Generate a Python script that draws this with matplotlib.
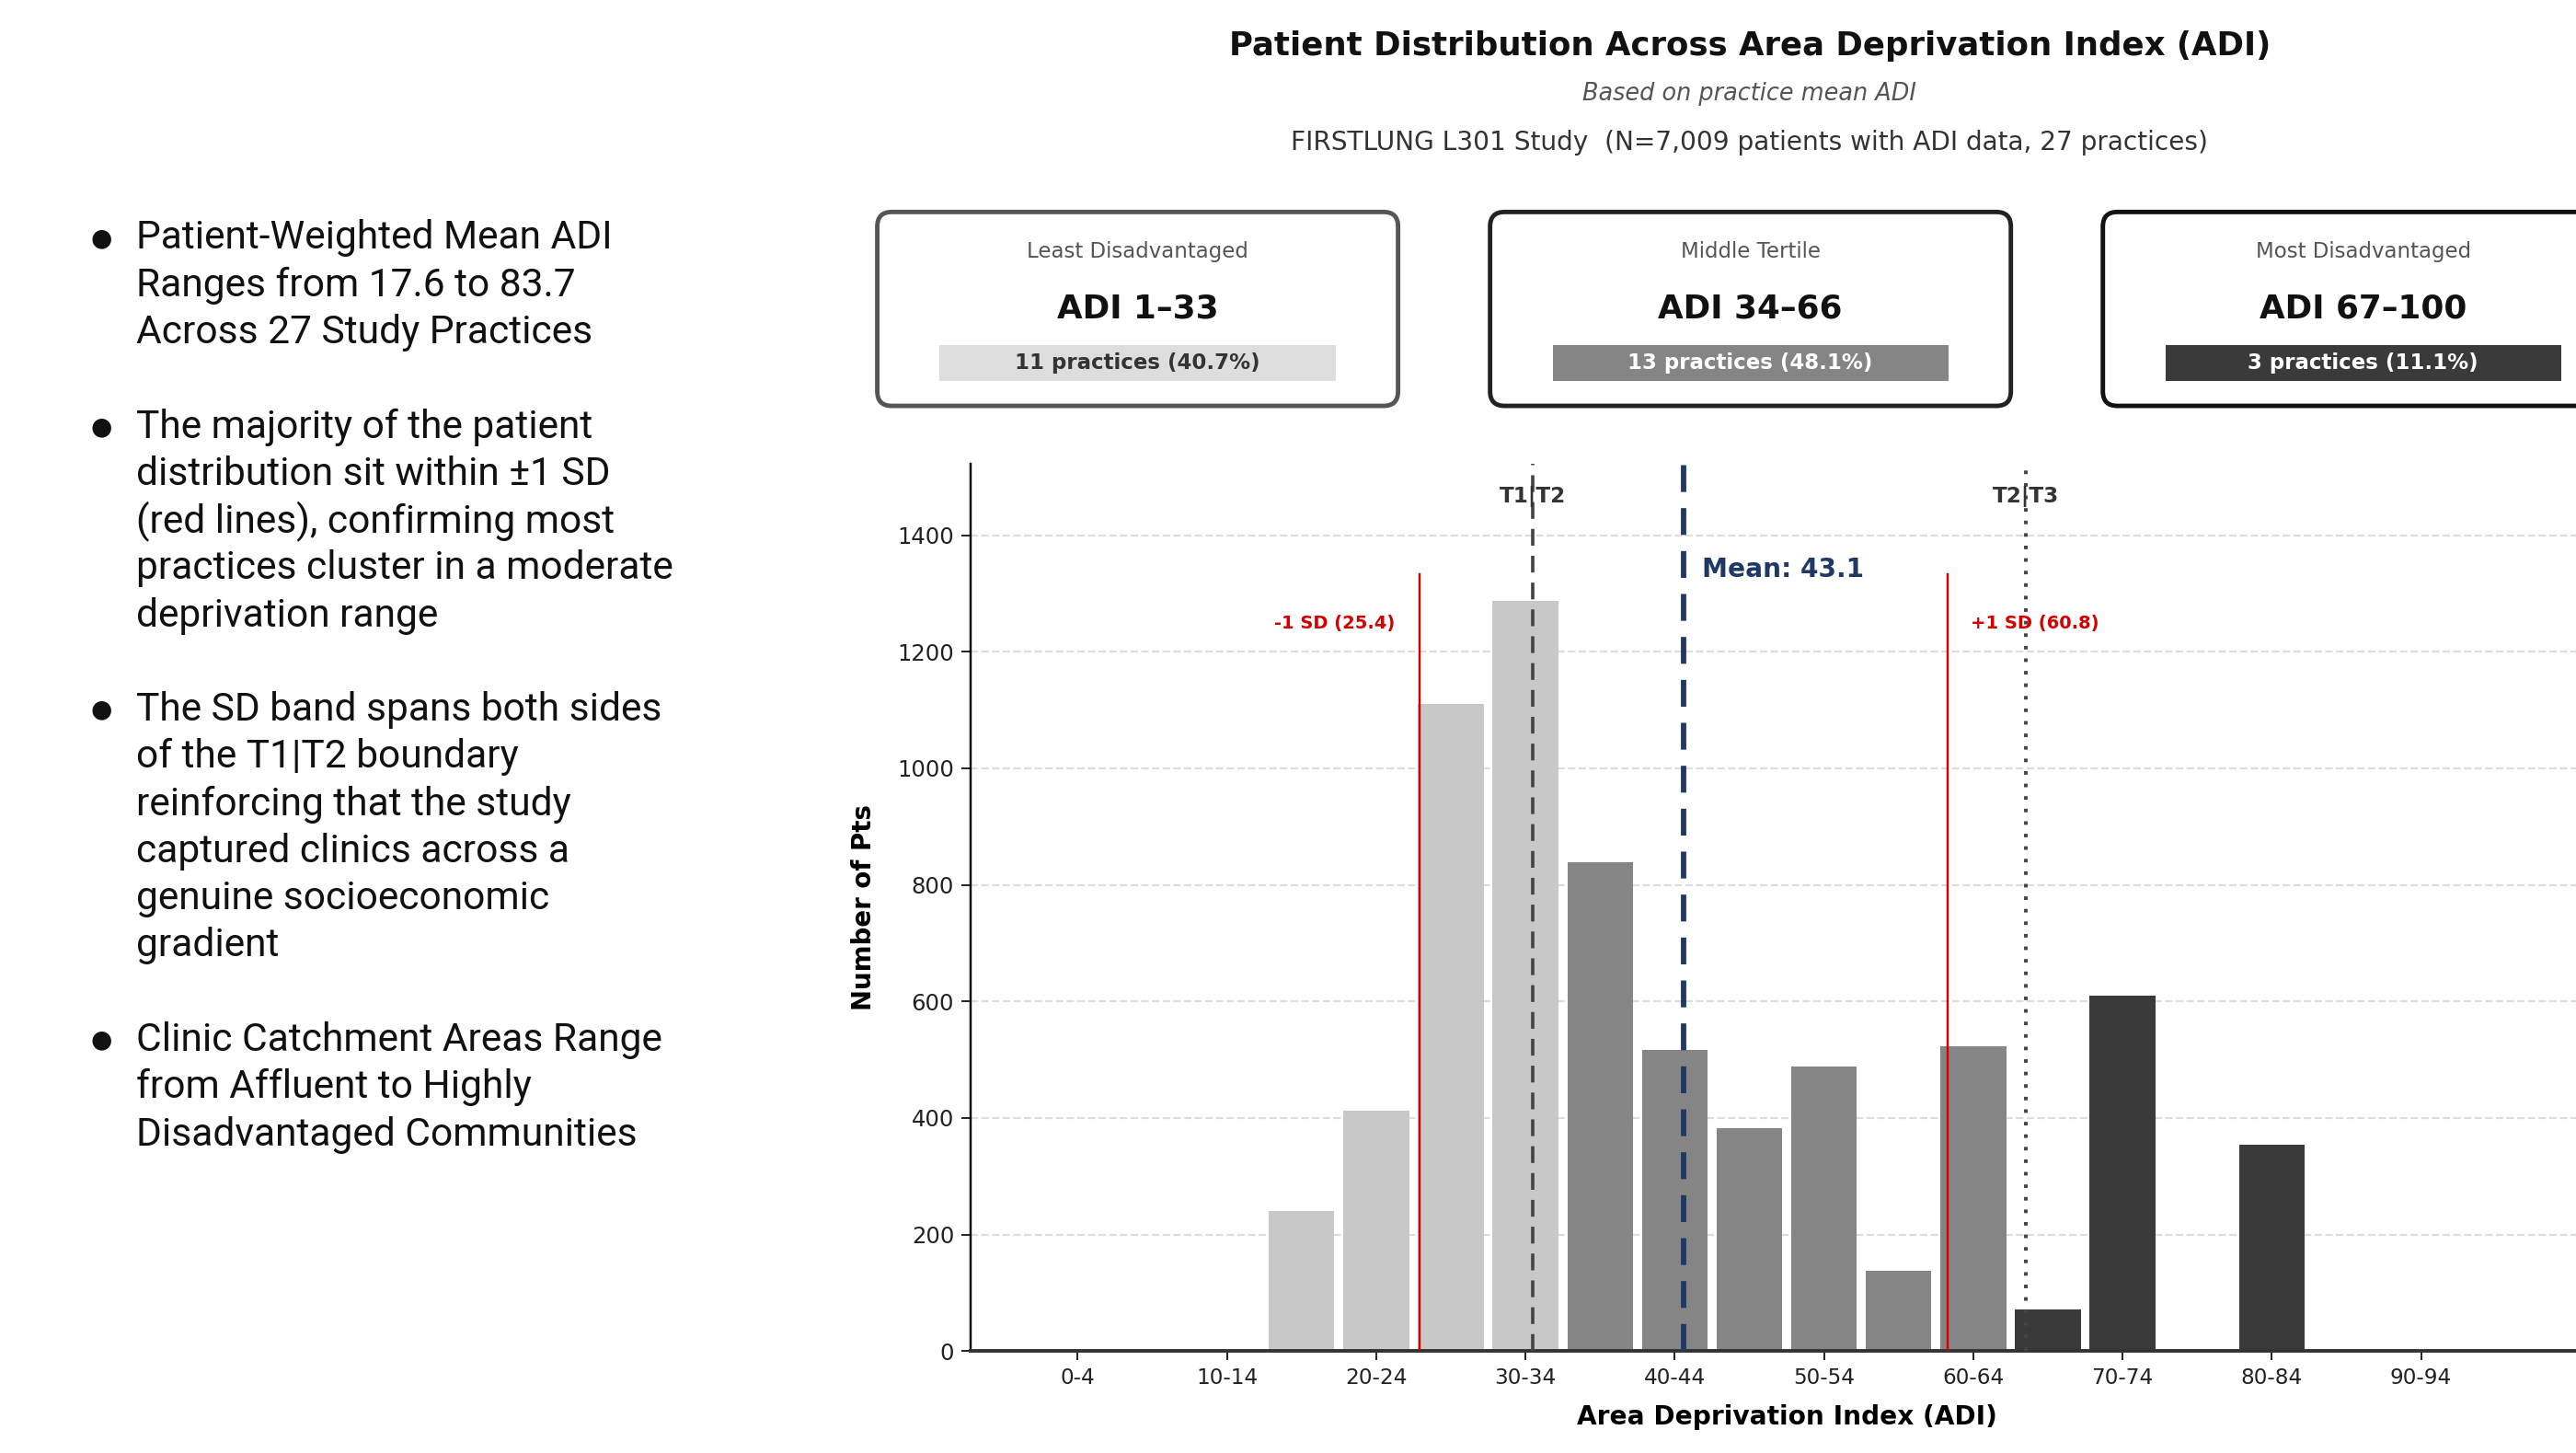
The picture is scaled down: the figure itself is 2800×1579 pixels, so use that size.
import matplotlib
matplotlib.use('Agg')
import matplotlib.pyplot as plt
import matplotlib.transforms as mtransforms
from matplotlib.patches import FancyBboxPatch, Rectangle

# ADI bins (5-point wide) and patient counts per bin
bin_labels = ['0-4', '5-9', '10-14', '15-19', '20-24', '25-29', '30-34', '35-39',
              '40-44', '45-49', '50-54', '55-59', '60-64', '65-69', '70-74',
              '75-79', '80-84', '85-89', '90-94', '95-99']
patients = [0, 0, 0, 241, 412, 1110, 1288, 839, 517, 382, 489, 138, 523, 71,
            610, 0, 354, 0, 0, 0]
bin_tertile = [1, 1, 1, 1, 1, 1, 1, 2, 2, 2, 2, 2, 2, 3, 3, 3, 3, 3, 3, 3]

adi_mean = 43.1
adi_sd_low = 25.4
adi_sd_high = 60.8
tertile_cuts = [33, 66]

card_labels = ['Least Disadvantaged', 'Middle Tertile', 'Most Disadvantaged']
card_ranges = ['ADI 1\u201333', 'ADI 34\u201366', 'ADI 67\u2013100']
card_counts = [11, 13, 3]
n_practices = 27

bullets = [
    ['Patient-Weighted Mean ADI', 'Ranges from 17.6 to 83.7', 'Across 27 Study Practices'],
    ['The majority of the patient', 'distribution sit within \u00b11 SD',
     '(red lines), confirming most', 'practices cluster in a moderate', 'deprivation range'],
    ['The SD band spans both sides', 'of the T1|T2 boundary', 'reinforcing that the study',
     'captured clinics across a', 'genuine socioeconomic', 'gradient'],
    ['Clinic Catchment Areas Range', 'from Affluent to Highly', 'Disadvantaged Communities'],
]

tertile_colors = {1: '#C8C8C8', 2: '#858585', 3: '#3A3A3A'}
badge_fill = {1: '#DDDDDD', 2: '#858585', 3: '#3A3A3A'}
badge_text = {1: '#333333', 2: 'white', 3: 'white'}
card_edges = ['#555555', '#222222', '#111111']
NAVY = '#1F3864'
RED = '#D40000'

W, H = 16, 1579 / 175
fig = plt.figure(figsize=(W, H), dpi=175)
fig.patch.set_facecolor('white')


def adi_pos(v):
    # bar i covers ADI [5i, 5i+5), centred on index i
    return (v - 2.5) / 5


# ---- histogram ----
ax = fig.add_axes([591 / 1568, 1 - 822 / 884, 994 / 1568, 540 / 884])
xs = list(range(len(patients)))
ax.bar(xs, patients, width=0.88, color=[tertile_colors[t] for t in bin_tertile],
       zorder=2)
ax.set_xlim(-1.43, 20.45)
ax.set_ylim(0, 1523)
ax.set_xticks(xs[::2])
ax.set_xticklabels(bin_labels[::2], fontsize=9.5)
ax.set_yticks(range(0, 1401, 200))
ax.tick_params(axis='y', labelsize=10)
ax.tick_params(axis='both', colors='#222222', length=4)
ax.grid(axis='y', linestyle='--', color='#dddddd', linewidth=0.9, zorder=0)
ax.set_axisbelow(True)
for s in ['top', 'right']:
    ax.spines[s].set_visible(False)
ax.spines['bottom'].set_linewidth(1.6)
ax.spines['bottom'].set_color('#333333')
ax.spines['left'].set_linewidth(1.0)
ax.set_xlabel('Area Deprivation Index (ADI)', fontsize=11.5, fontweight='bold', labelpad=7)
ax.set_ylabel('Number of Pts', fontsize=11.4, fontweight='bold', labelpad=9)

trans = mtransforms.blended_transform_factory(ax.transData, ax.transAxes)

# tertile boundaries
ax.axvline(adi_pos(tertile_cuts[0]), color='#444444', linestyle=(0, (5, 3)),
           linewidth=1.5, zorder=4)
ax.axvline(adi_pos(tertile_cuts[1]), color='#444444', linestyle=(0, (1, 2.5)),
           linewidth=1.6, zorder=4)
ax.text(adi_pos(tertile_cuts[0]), 0.963, 'T1|T2', transform=trans, ha='center',
        va='center', fontsize=9.5, fontweight='bold', color='#333333', zorder=5)
ax.text(adi_pos(tertile_cuts[1]), 0.963, 'T2|T3', transform=trans, ha='center',
        va='center', fontsize=9.5, fontweight='bold', color='#333333', zorder=5)

# mean and +/- 1 SD
ax.axvline(adi_pos(adi_mean), color=NAVY, linestyle=(0, (5, 3)), linewidth=2.4, zorder=4)
ax.text(adi_pos(adi_mean) + 0.24, 0.88, f'Mean: {adi_mean}', transform=trans,
        ha='left', va='center', fontsize=11.5, fontweight='bold', color=NAVY, zorder=5)
ax.axvline(adi_pos(adi_sd_low), ymax=0.875, color=RED, linewidth=1.0, zorder=4)
ax.axvline(adi_pos(adi_sd_high), ymax=0.875, color=RED, linewidth=1.0, zorder=4)
ax.text(adi_pos(adi_sd_low) - 0.33, 0.82, f'-1 SD ({adi_sd_low})', transform=trans,
        ha='right', va='center', fontsize=8, fontweight='bold', color=RED, zorder=5)
ax.text(adi_pos(adi_sd_high) + 0.31, 0.82, f'+1 SD ({adi_sd_high})', transform=trans,
        ha='left', va='center', fontsize=8, fontweight='bold', color=RED, zorder=5)

# ---- titles ----
cx = 1065 / 1568
fig.text(cx, 1 - 28 / 884, 'Patient Distribution Across Area Deprivation Index (ADI)',
         ha='center', va='center', fontsize=14.6, fontweight='bold', color='#111111')
fig.text(cx, 1 - 57 / 884, 'Based on practice mean ADI', ha='center', va='center',
         fontsize=10.5, style='italic', color='#555555')
fig.text(cx, 1 - 87 / 884,
         f'FIRSTLUNG L301 Study  (N=7,009 patients with ADI data, {n_practices} practices)',
         ha='center', va='center', fontsize=11.5, color='#333333')

# ---- tertile cards (overlay in inches so the corners stay round) ----
ov = fig.add_axes([0, 0, 1, 1])
ov.set_xlim(0, W)
ov.set_ylim(0, H)
ov.axis('off')
ov.patch.set_alpha(0)

px = W / 1568  # inches per layout pixel
card_w, card_h = 317 * px, 118 * px
for i in range(3):
    x0 = (534 + i * 373) * px
    y0 = H - 247 * px
    ov.add_patch(FancyBboxPatch((x0, y0), card_w, card_h,
                                boxstyle='round,pad=0,rounding_size=0.09',
                                facecolor='white', edgecolor=card_edges[i],
                                linewidth=2.0))
    xc = x0 + card_w / 2
    ov.text(xc, H - 153 * px, card_labels[i], ha='center', va='center',
            fontsize=9.4, color='#555555')
    ov.text(xc, H - 188 * px, card_ranges[i], ha='center', va='center',
            fontsize=14.7, fontweight='bold', color='#111111')
    t = i + 1
    ov.add_patch(Rectangle((x0 + 38 * px, H - 232 * px), 241 * px, 22 * px,
                           facecolor=badge_fill[t], edgecolor='none'))
    pct = 100 * card_counts[i] / n_practices
    ov.text(xc, H - 221 * px, f'{card_counts[i]} practices ({pct:.1f}%)',
            ha='center', va='center', fontsize=9.4, fontweight='bold',
            color=badge_text[t])

# ---- bullet notes ----
line_y = 145
pitch = 28.7
for block in bullets:
    fig.text(62 / 1568, 1 - line_y / 884, '\u25cf', ha='center', va='center',
             fontsize=11, color='#111111', family='DejaVu Sans')
    for line in block:
        fig.text(83 / 1568, 1 - line_y / 884, line, ha='left', va='center',
                 fontsize=17.5, color='#111111', family='Roboto')
        line_y += pitch
    line_y += pitch

fig.savefig('out.png', dpi=175, facecolor='white')
